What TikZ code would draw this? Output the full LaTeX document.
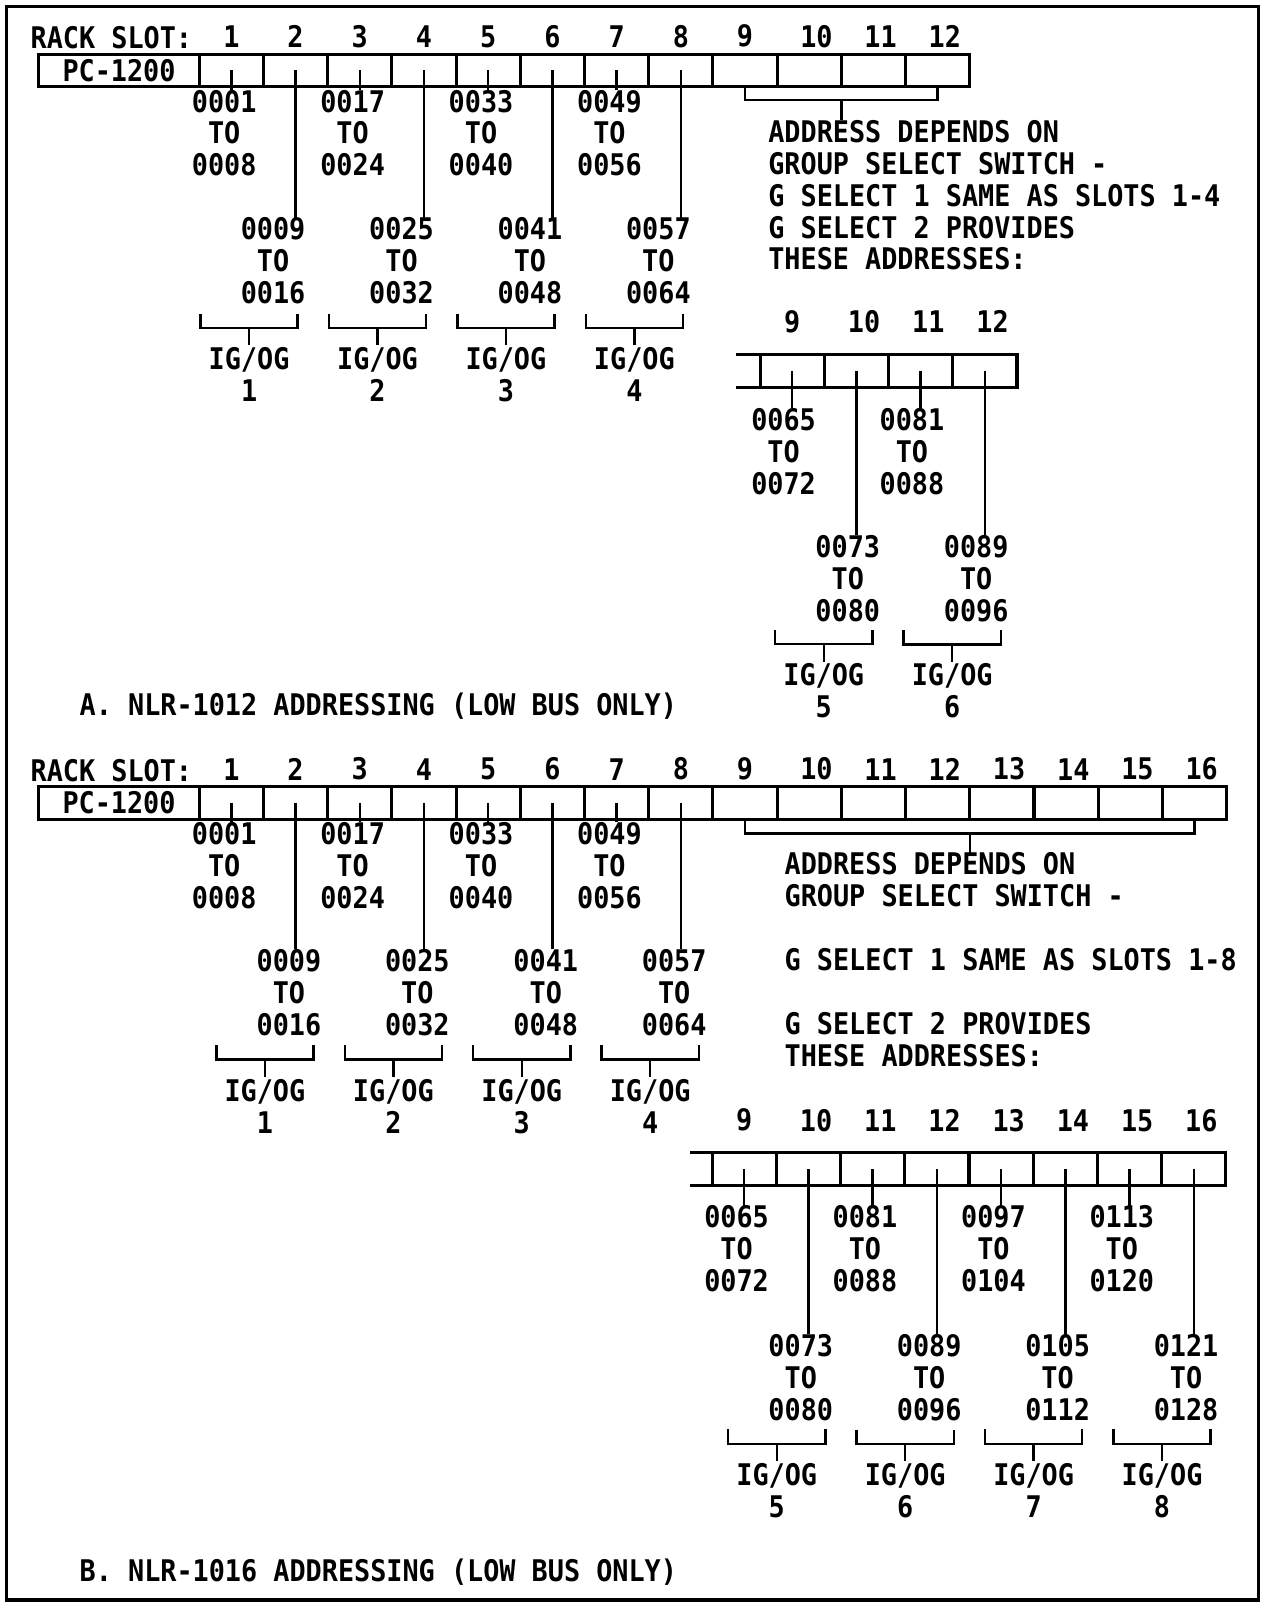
\documentclass[tikz,border=0pt]{standalone}
\usepackage{fontspec}
\newfontfamily\plcfont{DejaVu Sans Mono}[FakeStretch=0.9]
\usetikzlibrary{positioning}

\begin{document}
\begin{tikzpicture}[
  x=0.02cm, y=-0.02cm,
  every node/.style={inner sep=0pt, outer sep=0pt, font=\plcfont\bfseries\fontsize{16.6pt}{17.8pt}\selectfont},
  wall/.style={line width=1.7pt},
  rack/.style={draw, wall, minimum height=6.4mm},
  slot/.style={rack, minimum width=12.57mm},
  addr/.style={align=center},
  grp/.style={align=center},
  note/.style={align=left, anchor=north west},
  tick/.style={line width=1.35pt},
  frame/.style={line width=1.8pt}
]
\useasboundingbox (0,0) rectangle (1234,1568);
\draw[frame] (6,6) rectangle (1232,1566);

% A. NLR-1012
\node[anchor=base west] (arack) at (30,47) {RACK SLOT:};
\node[rack, minimum width=31.4mm] (apc) at (116.5,69) {PC-1200};
\foreach \s in {1,...,12}
  \node[slot] (a\s) at ({195+(\s-0.5)*62.85},69) {};
\foreach \s in {1,...,9}
  \node[above=1.3mm of a\s] (na\s) {\s};
\foreach \s in {10,11,12}
  \node[above=1.3mm of a\s, xshift=1.4mm] (na\s) {\s};

\foreach \s/\lo/\hi in {1/0001/0008, 3/0017/0024, 5/0033/0040, 7/0049/0056}
  \node[addr, below=0.6mm of a\s, xshift=-1.4mm] (la\s) {\lo\\TO\\\hi};
\foreach \s/\lo/\hi in {2/0009/0016, 4/0025/0032, 6/0041/0048, 8/0057/0064}
  \node[addr, below=25.6mm of a\s, xshift=-4.4mm] (la\s) {\lo\\TO\\\hi};
\foreach \s in {1,...,8}
  \draw[tick] (a\s.center) -- (a\s.center |- la\s.north);

\foreach \k/\s in {1/2, 2/4, 3/6, 4/8} {
  \node[grp, below=8.5mm of la\s, xshift=-4.7mm] (ga\k) {IG/OG\\\k};
  \draw[tick] (ga\k.north) ++(-47.5,-33) -- ++(0,14) -- ++(95,0) -- ++(0,-14);
  \draw[tick] (ga\k.north) ++(0,-19) -- ++(0,17);
}

\node[note] (anote) at (752,117.5) {ADDRESS DEPENDS ON\\GROUP SELECT SWITCH -\\G SELECT 1 SAME AS SLOTS 1-4\\G SELECT 2 PROVIDES\\THESE ADDRESSES:};
\draw[tick] (a9.south) -- ++(0,13) -| (a12.south);
\path (a9.south) -- coordinate (amid) (a12.south);
\draw[tick] (amid) ++(0,13) -- (amid |- anote.north);

% slots 9-12 with G SELECT 2
\foreach \s in {9,...,12}
  \node[slot] (sa\s) at ({744+(\s-8.5)*62.85},363) {};
\draw[wall] (sa9.north west) -- ++(-24,0) (sa9.south west) -- ++(-24,0);
\node[above=4.3mm of sa9] (nsa9) {9};
\foreach \s in {10,11,12}
  \node[above=4.3mm of sa\s, xshift=1.5mm] (nsa\s) {\s};

\foreach \s/\lo/\hi in {9/0065/0072, 11/0081/0088}
  \node[addr, below=4.1mm of sa\s, xshift=-1.7mm] (lsa\s) {\lo\\TO\\\hi};
\foreach \s/\lo/\hi in {10/0073/0080, 12/0089/0096}
  \node[addr, below=29mm of sa\s, xshift=-1.7mm] (lsa\s) {\lo\\TO\\\hi};
\foreach \s in {9,...,12}
  \draw[tick] (sa\s.center) -- (sa\s.center |- lsa\s.north);

\foreach \k/\s in {5/10, 6/12} {
  \node[grp, below=8.2mm of lsa\s, xshift=-4.7mm] (gsa\k) {IG/OG\\\k};
  \draw[tick] (gsa\k.north) ++(-47.5,-33) -- ++(0,14) -- ++(95,0) -- ++(0,-14);
  \draw[tick] (gsa\k.north) ++(0,-19) -- ++(0,17);
}

\node[anchor=base west] (acap) at (78,700.5) {A. NLR-1012 ADDRESSING (LOW BUS ONLY)};

% B. NLR-1016
\node[anchor=base west] (brack) at (30,764.5) {RACK SLOT:};
\node[rack, minimum width=31.4mm] (bpc) at (116.5,786) {PC-1200};
\foreach \s in {1,...,16}
  \node[slot] (b\s) at ({195+(\s-0.5)*62.85},786) {};
\foreach \s in {1,...,9}
  \node[above=1.3mm of b\s] (nb\s) {\s};
\foreach \s in {10,...,16}
  \node[above=1.3mm of b\s, xshift=1.4mm] (nb\s) {\s};

\foreach \s/\lo/\hi in {1/0001/0008, 3/0017/0024, 5/0033/0040, 7/0049/0056}
  \node[addr, below=0.6mm of b\s, xshift=-1.4mm] (lb\s) {\lo\\TO\\\hi};
\foreach \s/\lo/\hi in {2/0009/0016, 4/0025/0032, 6/0041/0048, 8/0057/0064}
  \node[addr, below=25.4mm of b\s, xshift=-1.3mm] (lb\s) {\lo\\TO\\\hi};
\foreach \s in {1,...,8}
  \draw[tick] (b\s.center) -- (b\s.center |- lb\s.north);

\foreach \k/\s in {1/2, 2/4, 3/6, 4/8} {
  \node[grp, below=8.5mm of lb\s, xshift=-4.7mm] (gb\k) {IG/OG\\\k};
  \draw[tick] (gb\k.north) ++(-47.5,-33) -- ++(0,14) -- ++(95,0) -- ++(0,-14);
  \draw[tick] (gb\k.north) ++(0,-19) -- ++(0,17);
}

\node[note] (bnote) at (768,834.5) {ADDRESS DEPENDS ON\\GROUP SELECT SWITCH -\\[17.8pt]G SELECT 1 SAME AS SLOTS 1-8\\[17.8pt]G SELECT 2 PROVIDES\\THESE ADDRESSES:};
\draw[tick] (b9.south) -- ++(0,14) -| (b16.south);
\path (b9.south) -- coordinate (bmid) (b16.south);
\draw[tick] (bmid) ++(0,14) -- (bmid |- bnote.north);

% slots 9-16 with G SELECT 2
\foreach \s in {9,...,16}
  \node[slot] (sb\s) at ({697+(\s-8.5)*62.85},1144) {};
\draw[wall] (sb9.north west) -- ++(-22,0) (sb9.south west) -- ++(-22,0);
\node[above=4.1mm of sb9] (nsb9) {9};
\foreach \s in {10,...,16}
  \node[above=4.1mm of sb\s, xshift=1.5mm] (nsb\s) {\s};

\foreach \s/\lo/\hi in {9/0065/0072, 11/0081/0088, 13/0097/0104, 15/0113/0120}
  \node[addr, below=4mm of sb\s, xshift=-1.5mm] (lsb\s) {\lo\\TO\\\hi};
\foreach \s/\lo/\hi in {10/0073/0080, 12/0089/0096, 14/0105/0112, 16/0121/0128}
  \node[addr, below=29.2mm of sb\s, xshift=-1.5mm] (lsb\s) {\lo\\TO\\\hi};
\foreach \s in {9,...,16}
  \draw[tick] (sb\s.center) -- (sb\s.center |- lsb\s.north);

\foreach \k/\s in {5/10, 6/12, 7/14, 8/16} {
  \node[grp, below=8.3mm of lsb\s, xshift=-4.7mm] (gsb\k) {IG/OG\\\k};
  \draw[tick] (gsb\k.north) ++(-47.5,-33) -- ++(0,14) -- ++(95,0) -- ++(0,-14);
  \draw[tick] (gsb\k.north) ++(0,-19) -- ++(0,17);
}

\node[anchor=base west] (bcap) at (78,1547.5) {B. NLR-1016 ADDRESSING (LOW BUS ONLY)};
\end{tikzpicture}
\end{document}
